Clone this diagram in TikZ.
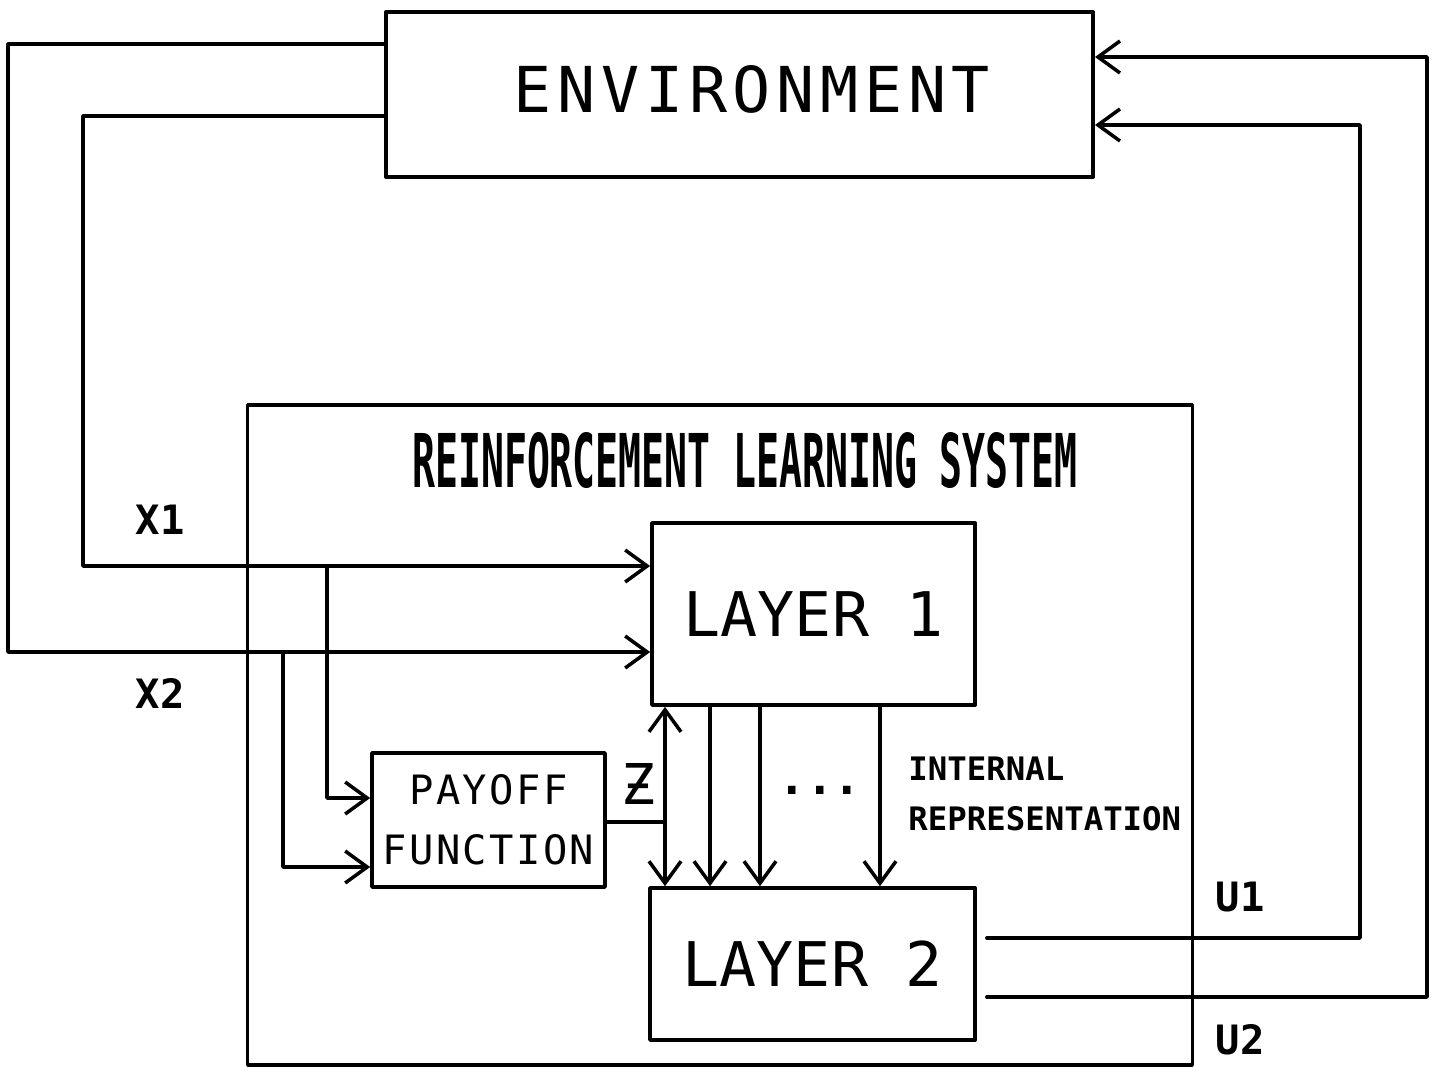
\documentclass[tikz,border=0pt]{standalone}
\usepackage{fontspec}
\usepackage{graphicx}
\setmainfont{DejaVu Sans Mono}
\usetikzlibrary{arrows.meta}

\tikzset{
	blk/.style={draw,rectangle,inner sep=0pt},
	bigtxt/.style={font=\fontsize{17.5}{20}\selectfont},
	midtxt/.style={font=\fontsize{11.5}{17}\selectfont},
	lbltxt/.style={font=\fontsize{11.5}{14}\selectfont\bfseries},
	smltxt/.style={font=\fontsize{9.2}{14}\selectfont\bfseries}
}

\begin{document}
\begin{tikzpicture}[x=0.01cm,y=-0.01cm,line join=round,line cap=round,line width=1pt,>={Straight Barb[length=2.2mm,width=3.2mm]}]
	\useasboundingbox (0,0) rectangle (1437,1066);
	\def \xa{83}
	\def \xb{8}
	\def \ua{1360}
	\def \ub{1427}
	% boxes
	\node[blk,minimum width=7.07cm,minimum height=1.65cm] (env) at (739.5,94.5) {};
	\node[bigtxt,font=\fontsize{18}{20}\selectfont] (envtxt) at (752,89) {\addfontfeature{LetterSpace=9}ENVIRONMENT};
	\node[blk,minimum width=9.44cm,minimum height=6.6cm] (rls) at (720,735) {};
	\node[font=\bfseries] (rlstxt) at (745,460) {\resizebox{6.65cm}{0.55cm}{REINFORCEMENT LEARNING SYSTEM}};
	\node[blk,minimum width=3.23cm,minimum height=1.82cm,bigtxt] (l1) at (813.5,614) {LAYER 1};
	\node[blk,minimum width=3.25cm,minimum height=1.52cm,bigtxt] (l2) at (812.5,964) {LAYER 2};
	\node[blk,minimum width=2.33cm,minimum height=1.34cm,midtxt,align=center] (pay) at (488.5,820) {\addfontfeature{LetterSpace=6}PAYOFF\\\addfontfeature{LetterSpace=6}FUNCTION};
	% labels
	\node[lbltxt] (x1) at (160,520) {X1};
	\node[lbltxt] (x2) at (160,693) {X2};
	\node[lbltxt] (u1) at (1240,897) {U1};
	\node[lbltxt] (u2) at (1240,1040) {U2};
	\node[font=\fontsize{16}{18}\selectfont] (z) at (638,784) {Ƶ};
	\node[font=\fontsize{13}{15}\selectfont\bfseries] (dots) at (820,790) {...};
	\node[smltxt,align=left,anchor=west] (irep) at (895,794) {INTERNAL\\REPRESENTATION};
	% inputs
	\coordinate (j1) at (327,566);
	\coordinate (j2) at (283,652);
	\draw[->] (env.west |- 0,116) -| (\xa,566) -- (l1.west |- 0,566);
	\draw[->] (env.west |- 0,44) -| (\xb,652) -- (l1.west |- 0,652);
	\draw[->] (j1) |- (pay.west |- 0,798);
	\draw[->] (j2) |- (pay.west |- 0,867);
	% payoff and layers
	\coordinate (zj) at (665,822);
	\draw (pay.east |- zj) -- (zj);
	\draw[<->] (l1.south -| zj) -- (l2.north -| zj);
	\foreach \x in {710,760,880}
		\draw[->] (l1.south -| \x,0) -- (l2.north -| \x,0);
	% outputs
	\draw[->] ([xshift=0.1cm]l2.east |- 0,938) -| (\ua,125) -- (env.east |- 0,125);
	\draw[->] ([xshift=0.1cm]l2.east |- 0,997) -| (\ub,57) -- (env.east |- 0,57);
\end{tikzpicture}
\end{document}
